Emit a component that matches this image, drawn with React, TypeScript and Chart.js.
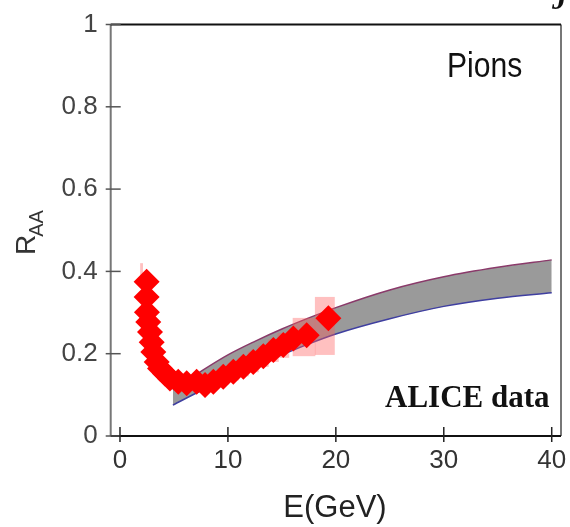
import React, { useEffect, useRef } from "react";
import { Chart, registerables } from "chart.js";

Chart.register(...registerables);

// ALICE pion R_AA data points (E in GeV)
const pointE = [2.47, 2.47, 2.5, 2.62, 2.78, 2.94, 3.09, 3.4, 3.71, 4.17, 4.63, 5.4, 6.18, 7.1, 7.88, 8.65, 9.57, 10.5, 11.43, 12.35, 13.28, 14.21, 15.13, 16.06, 17.3, 19.31];
const pointR = [0.375, 0.338, 0.301, 0.277, 0.253, 0.228, 0.204, 0.18, 0.164, 0.152, 0.14, 0.132, 0.128, 0.132, 0.124, 0.132, 0.144, 0.156, 0.168, 0.18, 0.194, 0.209, 0.221, 0.237, 0.245, 0.286];

// systematic error boxes
const boxE = [2.0, 9.57, 10.5, 11.43, 12.35, 13.28, 14.21, 15.13, 17.05, 18.98];
const boxHalfW = [0.13, 0.5, 0.5, 0.5, 0.5, 0.5, 0.5, 0.55, 1.05, 0.92];
const boxLo = [0.36, 0.125, 0.135, 0.145, 0.155, 0.168, 0.18, 0.19, 0.194, 0.197];
const boxHi = [0.42, 0.165, 0.177, 0.19, 0.205, 0.22, 0.235, 0.25, 0.287, 0.338];

// theory band
const bandE = [4.9, 7.5, 10, 12.5, 15, 17.5, 20, 25, 30, 35, 40];
const bandUpper = [0.112, 0.157, 0.197, 0.23, 0.26, 0.287, 0.312, 0.355, 0.387, 0.41, 0.428];
const bandLower = [0.075, 0.11, 0.14, 0.168, 0.197, 0.224, 0.248, 0.285, 0.315, 0.335, 0.348];

const xTicks = [0, 10, 20, 30, 40];
const yTicks = [0, 0.2, 0.4, 0.6, 0.8, 1];

export default function App() {
  const ref = useRef<HTMLCanvasElement>(null);

  useEffect(() => {
    if (!ref.current) return;

    const decor = {
      id: "decor",
      afterDatasetDraw(chart: any, args: any) {
        if (args.index !== 1) return;
        const { ctx, scales } = chart;
        const x = scales.x;
        const y = scales.y;
        ctx.save();
        ctx.fillStyle = "rgba(255,90,90,0.38)";
        boxE.forEach((e, i) => {
          const l = x.getPixelForValue(e - boxHalfW[i]);
          const r = x.getPixelForValue(e + boxHalfW[i]);
          const t = y.getPixelForValue(boxHi[i]);
          const b = y.getPixelForValue(boxLo[i]);
          ctx.fillRect(l, t, r - l, b - t);
        });
        ctx.restore();
      },
      afterDraw(chart: any) {
        const { ctx, chartArea, scales } = chart;
        const { left, right, top, bottom } = chartArea;
        const x = scales.x;
        const y = scales.y;
        ctx.save();
        // frame
        ctx.lineWidth = 2;
        ctx.strokeStyle = "#777";
        ctx.beginPath();
        ctx.moveTo(left, bottom);
        ctx.lineTo(left, top);
        ctx.moveTo(right, top);
        ctx.lineTo(right, bottom);
        ctx.stroke();
        ctx.strokeStyle = "#111";
        ctx.beginPath();
        ctx.moveTo(left, top);
        ctx.lineTo(right, top);
        ctx.moveTo(left, bottom);
        ctx.lineTo(right, bottom);
        ctx.stroke();
        // ticks
        ctx.lineWidth = 1.5;
        ctx.strokeStyle = "#555";
        yTicks.forEach((v) => {
          const py = y.getPixelForValue(v);
          ctx.beginPath();
          ctx.moveTo(left - 5, py);
          ctx.lineTo(left + 10, py);
          ctx.stroke();
        });
        ctx.strokeStyle = "#222";
        xTicks.forEach((v) => {
          const px = x.getPixelForValue(v);
          ctx.beginPath();
          ctx.moveTo(px, bottom - 9);
          ctx.lineTo(px, bottom + 6);
          ctx.stroke();
        });
        // texts
        ctx.fillStyle = "#111";
        ctx.textBaseline = "alphabetic";
        ctx.save();
        ctx.translate(447, 77);
        ctx.scale(0.86, 1);
        ctx.font = "35px 'Liberation Sans', Arial, sans-serif";
        ctx.textAlign = "left";
        ctx.fillText("Pions", 0, 0);
        ctx.restore();

        ctx.font = "bold 31px 'Liberation Serif', 'Times New Roman', serif";
        ctx.textAlign = "left";
        ctx.fillText("ALICE data", 385, 407);

        ctx.font = "31px 'Liberation Sans', Arial, sans-serif";
        ctx.textAlign = "center";
        ctx.fillStyle = "#222";
        ctx.fillText("E(GeV)", 335, 517);

        // y title R_AA
        ctx.save();
        ctx.translate(35, 255);
        ctx.rotate(-Math.PI / 2);
        ctx.textAlign = "left";
        ctx.fillStyle = "#333";
        ctx.font = "28px 'Liberation Sans', Arial, sans-serif";
        ctx.fillText("R", 0, 0);
        const w = ctx.measureText("R").width;
        ctx.font = "20px 'Liberation Sans', Arial, sans-serif";
        ctx.fillText("AA", w - 2, 8);
        ctx.restore();

        // cropped caption glyph at the top right
        ctx.fillStyle = "#111";
        ctx.font = "bold italic 30px 'Liberation Serif', serif";
        ctx.textAlign = "left";
        ctx.fillText("J", 552, 9);
        ctx.restore();
      },
    };

    const chart = new Chart(ref.current, {
      type: "scatter",
      data: {
        datasets: [
          {
            label: "ALICE data",
            data: pointE.map((e, i) => ({ x: e, y: pointR[i] })),
            pointStyle: "rectRot",
            pointRadius: 13,
            backgroundColor: "#ff0000",
            borderWidth: 0,
            showLine: false,
          },
          {
            label: "upper",
            data: bandE.map((e, i) => ({ x: e, y: bandUpper[i] })),
            showLine: true,
            pointRadius: 0,
            borderColor: "#8a3a6a",
            borderWidth: 1.5,
            backgroundColor: "#9a9a9a",
            fill: "+1",
            cubicInterpolationMode: "monotone",
          },
          {
            label: "lower",
            data: bandE.map((e, i) => ({ x: e, y: bandLower[i] })),
            showLine: true,
            pointRadius: 0,
            borderColor: "#3f3fa0",
            borderWidth: 1.5,
            fill: false,
            cubicInterpolationMode: "monotone",
          },
        ],
      },
      options: {
        animation: false,
        responsive: true,
        maintainAspectRatio: false,
        layout: { autoPadding: false, padding: { top: 24.5, right: 9, left: 0, bottom: 0 } },
        plugins: {
          legend: { display: false },
          tooltip: { enabled: false },
          filler: { drawTime: "beforeDatasetsDraw" },
        },
        scales: {
          x: {
            type: "linear",
            min: -0.86,
            max: 40.86,
            grid: { display: false, drawTicks: false },
            border: { display: false },
            afterBuildTicks: (s: any) => {
              s.ticks = xTicks.map((v) => ({ value: v }));
            },
            afterFit: (s: any) => {
              s.height = 91;
              s.paddingLeft = 0;
              s.paddingRight = 0;
            },
            ticks: {
              font: { family: "'Liberation Sans', Arial, sans-serif", size: 26 },
              color: "#333",
              padding: 9,
              maxRotation: 0,
              autoSkip: false,
              callback: (v: any) => String(v),
            },
          },
          y: {
            type: "linear",
            min: 0,
            max: 1,
            grid: { display: false, drawTicks: false },
            border: { display: false },
            afterBuildTicks: (s: any) => {
              s.ticks = yTicks.map((v) => ({ value: v }));
            },
            afterFit: (s: any) => {
              s.width = 110.7;
              s.paddingTop = 0;
              s.paddingBottom = 0;
            },
            ticks: {
              font: { family: "'Liberation Sans', Arial, sans-serif", size: 26 },
              color: "#444",
              padding: 13,
              autoSkip: false,
              callback: (v: any) => String(v),
            },
          },
        },
      },
      plugins: [decor],
    } as any);

    return () => chart.destroy();
  }, []);

  return (
    <div style={{ position: "absolute", left: 0, top: 0, width: 570, height: 527 }}>
      <canvas ref={ref} />
    </div>
  );
}
